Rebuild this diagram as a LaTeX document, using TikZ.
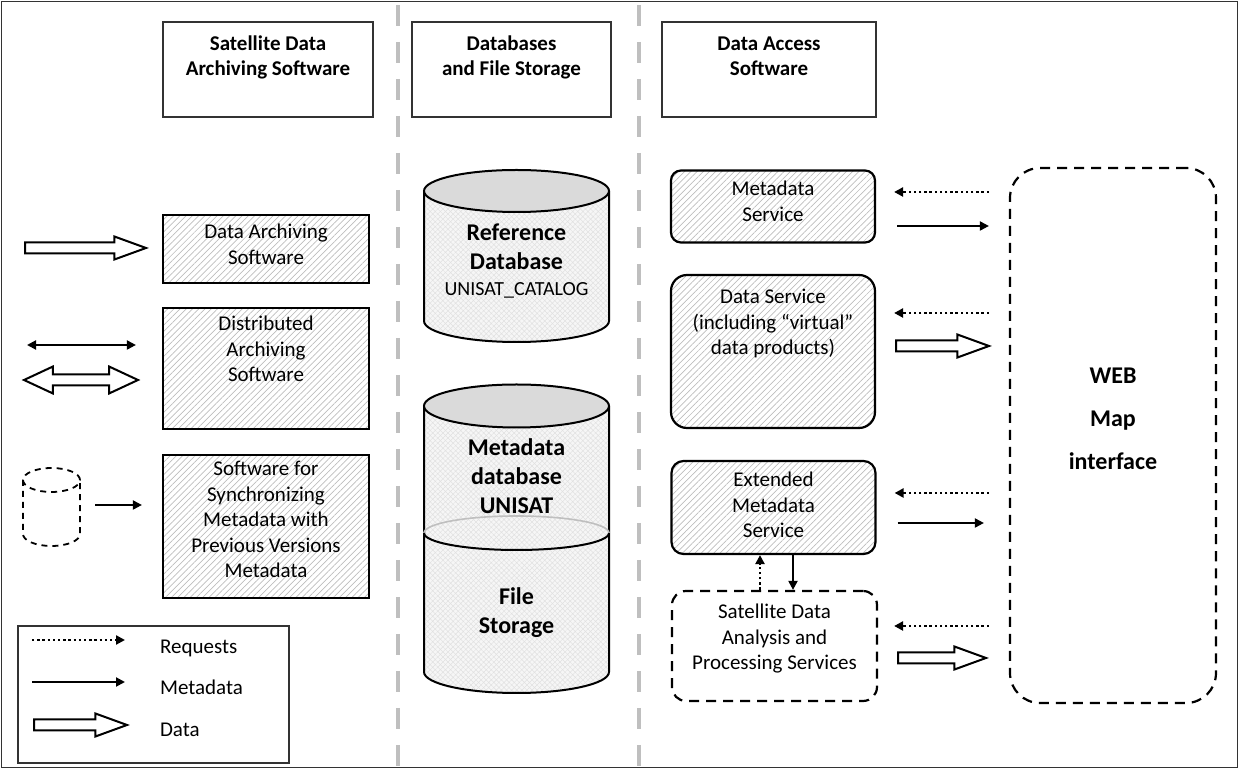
\documentclass[tikz,border=0pt]{standalone}
\usepackage{fontspec}
\setmainfont{Carlito}
\usepackage{tikz}
\usetikzlibrary{arrows.meta,positioning,shapes.arrows,patterns.meta}
\definecolor{FrameDark}{HTML}{333333}
\definecolor{HatchGray}{HTML}{BDBDBD}
\definecolor{SepGray}{HTML}{BFBFBF}
\definecolor{LidGray}{HTML}{DADADA}
\definecolor{BodyGray}{HTML}{F6F6F6}

\tikzset{
  hatched/.style={pattern={Lines[angle=45,distance=2.2pt,line width=0.35pt]},pattern color=HatchGray},
  checked/.style={pattern={Hatch[angle=45,distance=1.8pt,line width=0.25pt]},pattern color=HatchGray!45},
  titlebox/.style={draw=FrameDark,line width=0.7pt,align=center,
    font=\fontsize{10.5}{12.5}\selectfont\bfseries,
    inner sep=0pt,text height=27pt,text depth=20.5pt},
  swbox/.style={draw,line width=1.1pt,hatched,align=center,
    font=\fontsize{10.5}{12.75}\selectfont,
    minimum width=103pt,inner sep=2pt},
  srvbox/.style={swbox,minimum width=102pt},
  dashbox/.style={draw,line width=1.1pt,dash pattern=on 5pt off 3.5pt,align=center,inner sep=2pt},
  cyltext/.style={align=center,anchor=north,inner sep=0pt,
    font=\fontsize{12}{14.5}\selectfont\bfseries},
  req/.style={line width=1.3pt,dash pattern=on 1.2pt off 1.4pt,-{Triangle[length=4.5pt,width=4.5pt]}},
  meta/.style={line width=1pt,-{Triangle[length=4.5pt,width=4.5pt]}},
  dataarr/.style={single arrow,draw,line width=1pt,fill=white,inner sep=0pt,anchor=tail,
    text height=4.5pt,text depth=0pt,minimum width=10.5pt,
    single arrow head extend=3pt,single arrow tip angle=40},
  databoth/.style={double arrow,draw,line width=1pt,fill=white,inner sep=0pt,
    text height=4.5pt,text depth=0pt,minimum width=12.5pt,
    double arrow head extend=4pt,double arrow tip angle=50},
  sepline/.style={SepGray,line width=1.75pt,dash pattern=on 10.5pt off 8pt,dash phase=16pt},
  lbl/.style={anchor=base west,font=\fontsize{10.5}{12.75}\selectfont}
}

\begin{document}
\begin{tikzpicture}[x=0.5pt,y=-0.5pt]
\useasboundingbox (0,0) rectangle (1239,769);

\draw[sepline] (398,0) -- (398,769);
\draw[sepline] (639,0) -- (639,769);
\draw[FrameDark,line width=0.6pt] (1.5,1.5) rectangle (1237.5,767.5);

% column headers
\node[titlebox,minimum width=105pt] (ttlarch) at (268,69.5) {Satellite Data\\Archiving Software};
\node[titlebox,minimum width=99.5pt] (ttldb) at (511.5,69.5) {Databases\\and File Storage};
\node[titlebox,minimum width=107pt] (ttlacc) at (769,69.5) {Data Access\\Software};

% archiving software
\node[swbox,minimum height=34pt,text height=20.75pt,text depth=5.25pt] (archsw) at (266,249) {Data Archiving\\Software};
\node[swbox,minimum height=60.5pt,text height=33.5pt,text depth=20pt] (distsw) at (266,368.5) {Distributed\\Archiving\\Software};
\node[swbox,minimum height=71.5pt,text height=59pt,text depth=7.5pt] (syncsw) at (266,526.5) {Software for\\Synchronizing\\Metadata with\\Previous Versions\\Metadata};

\node[dataarr,minimum height=60.5pt] (arrin) at (24,248) {};
\coordinate (distfree) at (27,345);
\draw[line width=1pt,{Triangle[length=4.5pt,width=4.5pt]}-{Triangle[length=4.5pt,width=4.5pt]},shorten >=13pt] (distfree) -- (distfree -| distsw.west);
\node[databoth,minimum height=57pt] (arrdist) at (81,380) {};

\draw[line width=0.9pt,dash pattern=on 3pt off 2.5pt] (23,480) -- (23,534)
  arc[start angle=180,end angle=360,x radius=14.25pt,y radius=6pt] -- (80,480);
\draw[line width=0.9pt,dash pattern=on 3pt off 2.5pt] (51.5,480) ellipse [x radius=14.25pt,y radius=6pt];
\coordinate (olddb) at (80,505);
\draw[meta,shorten <=7.5pt,shorten >=10pt] (olddb) -- (olddb -| syncsw.west);

% legend
\draw[FrameDark,line width=0.7pt] (18,626) rectangle (289,763);
\draw[req] (32,640) -- (125,640);
\draw[meta] (32,682) -- (125,682);
\node[dataarr,minimum height=46.5pt] (legdata) at (33,725) {};
\node[lbl] (lreq) at (153,654) {Requests};
\node[lbl] (lmeta) at (153,695) {Metadata};
\node[lbl] (ldata) at (153,737) {Data};

% reference database
\path[preaction={fill=BodyGray},checked] (424,191) -- (424,321)
  arc[start angle=180,end angle=360,x radius=46.25pt,y radius=10.5pt] -- (609,191) -- cycle;
\draw[line width=1pt] (424,191) -- (424,321)
  arc[start angle=180,end angle=360,x radius=46.25pt,y radius=10.5pt] -- (609,191);
\draw[line width=1pt,fill=LidGray] (516.5,191) ellipse [x radius=46.25pt,y radius=10.5pt];
\node[cyltext,text height=36.5pt] (refdb) at (516.5,222) {Reference\\Database\\[-1.5pt]{\mdseries\fontsize{10}{12}\selectfont UNISAT\_CATALOG}};

% metadata database and file storage
\path[preaction={fill=BodyGray},checked] (424,406) -- (424,672)
  arc[start angle=180,end angle=360,x radius=46.25pt,y radius=10.5pt] -- (609,406) -- cycle;
\draw[line width=1pt] (424,406) -- (424,672)
  arc[start angle=180,end angle=360,x radius=46.25pt,y radius=10.5pt] -- (609,406);
\draw[line width=1pt,fill=LidGray] (516.5,406) ellipse [x radius=46.25pt,y radius=10.75pt];
\draw[black!25,line width=0.8pt] (424,533) arc[start angle=180,end angle=0,x radius=46.25pt,y radius=8.5pt];
\draw[line width=1pt] (424,533) arc[start angle=180,end angle=360,x radius=46.25pt,y radius=8.5pt];
\node[cyltext,text height=38pt] (metadb) at (516.5,437) {Metadata\\database\\UNISAT};
\node[cyltext,text height=23.5pt] (files) at (516.5,586) {File\\Storage};

% access services
\node[srvbox,rounded corners=5pt,minimum height=36pt,text height=20.75pt,text depth=5.75pt] (ms) at (773,206.5) {Metadata\\Service};
\node[srvbox,rounded corners=8pt,minimum height=76.5pt,text height=33.5pt,text depth=30pt] (ds) at (773,351.5) {Data Service\\(including “virtual”\\data products)};
\node[srvbox,rounded corners=6pt,minimum height=46.5pt,text height=33.5pt,text depth=3pt] (ems) at (773.5,507.5) {Extended\\Metadata\\Service};
\node[dashbox,rounded corners=7pt,minimum width=102.5pt,minimum height=55pt,text height=33.5pt,text depth=9.5pt,
  font=\fontsize{10.5}{12.75}\selectfont] (sdap) at (774.5,646) {Satellite Data\\Analysis and\\Processing Services};
\node[dashbox,rounded corners=15pt,minimum width=103pt,minimum height=267.5pt,
  text height=52pt,text depth=17.5pt,font=\fontsize{12}{21.5}\selectfont\bfseries] (web) at (1113,435.5) {WEB\\Map\\interface};

\draw[req] ([xshift=-7.25pt]sdap.north) -- ([xshift=-6.75pt]ems.south);
\draw[meta] ([xshift=9.75pt]ems.south) -- ([xshift=9.25pt]sdap.north);

\coordinate (msreq) at (0,192);
\coordinate (msout) at (0,226);
\coordinate (dsreq) at (0,313);
\coordinate (emsreq) at (0,493);
\coordinate (emsout) at (0,523);
\coordinate (sdreq) at (0,626);
\draw[req,shorten <=10pt,shorten >=9pt] (web.west |- msreq) -- (ms.east |- msreq);
\draw[meta,shorten <=10.5pt,shorten >=10pt] (ms.east |- msout) -- (web.west |- msout);
\draw[req,shorten <=10pt,shorten >=9pt] (web.west |- dsreq) -- (ds.east |- dsreq);
\node[dataarr,minimum height=46.5pt] (arrds) at (895,346) {};
\draw[req,shorten <=10pt,shorten >=9pt] (web.west |- emsreq) -- (ems.east |- emsreq);
\draw[meta,shorten <=10.5pt,shorten >=12.5pt] (ems.east |- emsout) -- (web.west |- emsout);
\draw[req,shorten <=10pt,shorten >=8pt] (web.west |- sdreq) -- (sdap.east |- sdreq);
\node[dataarr,minimum height=44pt] (arrsdap) at (897,658) {};
\end{tikzpicture}
\end{document}
